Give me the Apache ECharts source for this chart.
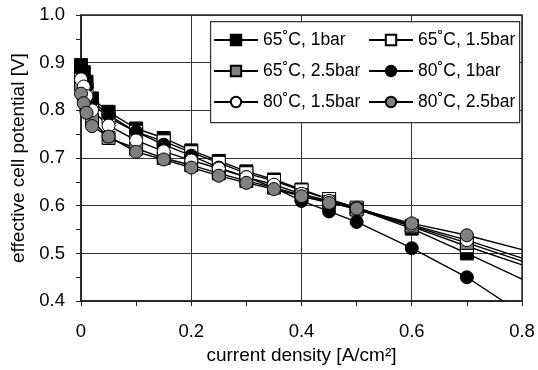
<!DOCTYPE html>
<html>
<head>
    <meta charset="utf-8"/>
    <script src="https://cdn.jsdelivr.net/npm/echarts@6/dist/echarts.min.js"></script>
    <style>
        body { margin: 0; background: #fff; }
    </style>
</head>
<body>
<div id="main" style="width: 538px;height:370px;"></div>
<script type="text/javascript">
    // current density [A/cm2]; the last point (0.8) is the trend line end, drawn without a marker
    var currentDensity = [0, 0.005, 0.01, 0.02, 0.05, 0.1, 0.15, 0.2, 0.25, 0.3, 0.35, 0.4, 0.45, 0.5, 0.6, 0.7, 0.8];

    var v65_1bar   = [0.895, 0.880, 0.860, 0.825, 0.797, 0.762, 0.742, 0.716, 0.694, 0.672, 0.655, 0.634, 0.614, 0.594, 0.552, 0.500, 0.446];
    var v65_15bar  = [0.875, 0.860, 0.845, 0.815, 0.785, 0.755, 0.735, 0.712, 0.690, 0.668, 0.652, 0.632, 0.614, 0.596, 0.556, 0.515, 0.476];
    var v65_25bar  = [0.855, 0.835, 0.810, 0.780, 0.742, 0.720, 0.700, 0.685, 0.668, 0.652, 0.638, 0.622, 0.608, 0.592, 0.558, 0.522, 0.484];
    var v80_1bar   = [0.885, 0.870, 0.850, 0.820, 0.790, 0.755, 0.728, 0.705, 0.680, 0.660, 0.638, 0.610, 0.588, 0.566, 0.511, 0.450, 0.374];
    var v80_15bar  = [0.865, 0.850, 0.830, 0.800, 0.768, 0.737, 0.714, 0.695, 0.678, 0.660, 0.644, 0.625, 0.610, 0.596, 0.560, 0.528, 0.490];
    var v80_25bar  = [0.835, 0.815, 0.795, 0.767, 0.745, 0.713, 0.697, 0.680, 0.663, 0.648, 0.635, 0.620, 0.606, 0.594, 0.563, 0.538, 0.508];

    var xTicks = [0, 0.2, 0.4, 0.6, 0.8];
    var yTicks = [0.4, 0.5, 0.6, 0.7, 0.8, 0.9, 1.0];

    var myChart = echarts.init(document.getElementById('main'));
    var font = 'Liberation Sans, Arial, sans-serif';

    function pairs(vals) {
        return vals.map(function (v, i) {
            var p = {value: [currentDensity[i], v]};
            if (i === vals.length - 1) p.symbol = 'none'; // trend line end
            return p;
        });
    }

    function mkSeries(name, vals, symbol, fill) {
        return {
            name: name,
            type: 'line',
            data: pairs(vals),
            symbol: symbol,
            symbolSize: 13,
            showAllSymbol: true,
            clip: true,
            lineStyle: {color: '#000', width: 1.4},
            itemStyle: {color: fill, borderColor: '#000', borderWidth: 1},
            emphasis: {disabled: true},
            animation: false
        };
    }

    var legendText = {fontFamily: font, fontSize: 17.5, color: '#000', padding: [0, 0, 0, 0]};

    option = {
        animation: false,
        grid: {
            left: 81, right: 16, top: 15, bottom: 67,
            show: true, borderColor: '#222', borderWidth: 1.5
        },
        legend: [{
            orient: 'vertical',
            left: 208, top: 26,
            itemWidth: 44, itemHeight: 13, itemGap: 13,
            textStyle: legendText,
            data: ['65˚C, 1bar', '65˚C, 2.5bar', '80˚C, 1.5bar']
        }, {
            orient: 'vertical',
            left: 363, top: 26,
            itemWidth: 44, itemHeight: 13, itemGap: 13,
            textStyle: legendText,
            data: ['65˚C, 1.5bar', '80˚C, 1bar', '80˚C, 2.5bar']
        }],
        graphic: [{
            type: 'rect',
            left: 210, top: 21,
            shape: {width: 309, height: 101},
            style: {fill: '#fff', stroke: '#333', lineWidth: 1.2},
            z: 3
        }],
        xAxis: {
            type: 'value',
            min: xTicks[0], max: xTicks[xTicks.length - 1], interval: 0.2,
            name: 'current density [A/cm²]',
            nameLocation: 'middle', nameGap: 39,
            nameTextStyle: {fontFamily: font, fontSize: 19, color: '#000'},
            axisLine: {show: true, lineStyle: {color: '#222', width: 1.5}},
            axisTick: {show: true, length: 5, lineStyle: {color: '#222'}},
            minorTick: {show: true, splitNumber: 2, length: 5, lineStyle: {color: '#222'}},
            axisLabel: {fontFamily: font, fontSize: 18.5, color: '#000', margin: 21},
            splitLine: {show: true, lineStyle: {color: '#333', width: 1}}
        },
        yAxis: {
            type: 'value',
            min: yTicks[0], max: yTicks[yTicks.length - 1], interval: 0.1,
            name: 'effective cell potential [V]',
            nameLocation: 'middle', nameGap: 44,
            nameTextStyle: {fontFamily: font, fontSize: 19, color: '#000'},
            axisLine: {show: true, lineStyle: {color: '#222', width: 1.5}},
            axisTick: {show: true, length: 5, lineStyle: {color: '#222'}},
            minorTick: {show: true, splitNumber: 2, length: 5, lineStyle: {color: '#222'}},
            axisLabel: {
                fontFamily: font, fontSize: 18.5, color: '#000', margin: 16,
                formatter: function (v) { return v.toFixed(1); }
            },
            splitLine: {show: true, lineStyle: {color: '#333', width: 1}}
        },
        series: [
            mkSeries('65˚C, 1bar', v65_1bar, 'rect', '#000'),
            mkSeries('65˚C, 1.5bar', v65_15bar, 'rect', '#fff'),
            mkSeries('65˚C, 2.5bar', v65_25bar, 'rect', '#808080'),
            mkSeries('80˚C, 1bar', v80_1bar, 'circle', '#000'),
            mkSeries('80˚C, 1.5bar', v80_15bar, 'circle', '#fff'),
            mkSeries('80˚C, 2.5bar', v80_25bar, 'circle', '#808080')
        ]
    };

    myChart.setOption(option);
</script>
</body>
</html>
